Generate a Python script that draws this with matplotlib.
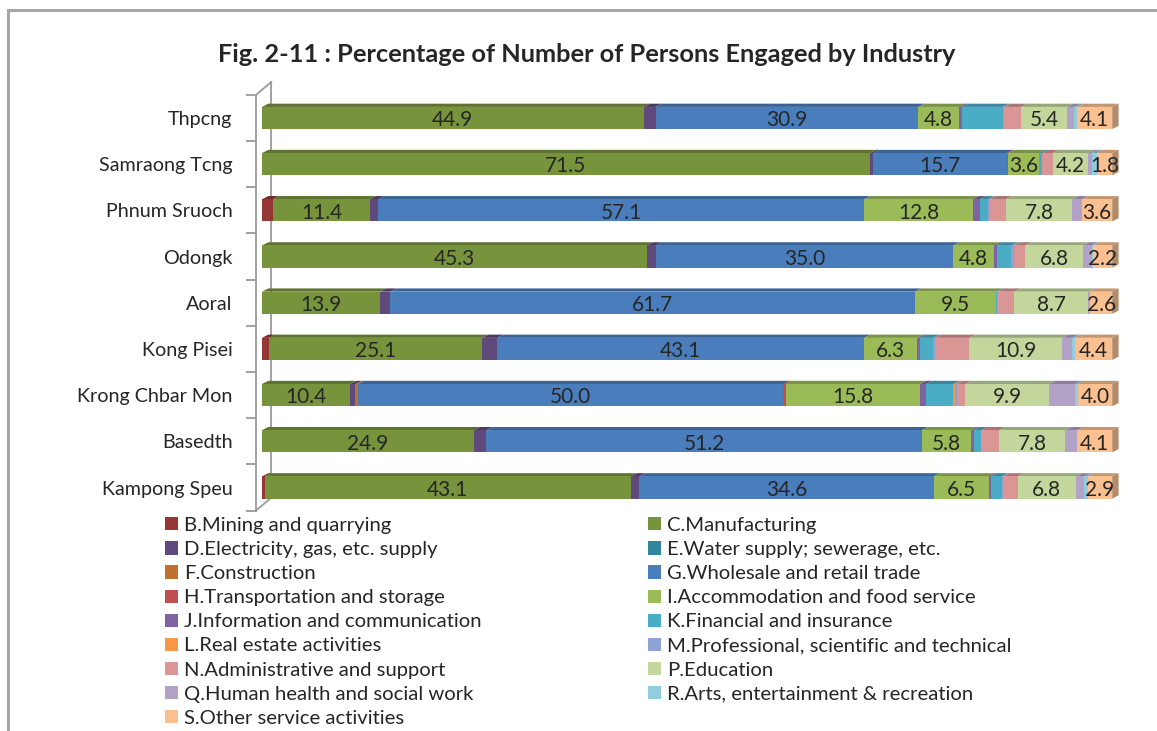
import numpy as np
import matplotlib
matplotlib.use('Agg')
import matplotlib.pyplot as plt
from matplotlib.patches import Patch, Polygon, Rectangle
import matplotlib.colors as mcolors

plt.rcParams['font.family'] = ['Lato', 'DejaVu Sans']

# districts, bottom to top
districts = ['Kampong Speu', 'Basedth', 'Krong Chbar Mon', 'Kong Pisei', 'Aoral',
             'Odongk', 'Phnum Sruoch', 'Samraong Tcng', 'Thpcng']

industries = ['B.Mining and quarrying', 'C.Manufacturing', 'D.Electricity, gas, etc. supply',
              'E.Water supply; sewerage, etc.', 'F.Construction', 'G.Wholesale and retail trade',
              'H.Transportation and storage', 'I.Accommodation and food service',
              'J.Information and communication', 'K.Financial and insurance',
              'L.Real estate activities', 'M.Professional, scientific and technical',
              'N.Administrative and support', 'P.Education', 'Q.Human health and social work',
              'R.Arts, entertainment & recreation', 'S.Other service activities']

colors = ['#953735', '#77933C', '#604A7B', '#31859C', '#C0712F', '#4A7DBC',
          '#C0504D', '#9BBB59', '#8064A2', '#4BACC6', '#F79646', '#8DA3D4',
          '#D99694', '#C3D69B', '#B3A2C7', '#93CDDD', '#FAC090']

# shares (%) per district, one list per industry, B..S
#    KSpeu Basedth KCM  KPisei Aoral Odongk PSruoch Samraong Thpcng
B = [0.3, 0.0, 0.0, 0.8, 0.0, 0.0, 1.3, 0.0, 0.0]
C = [43.1, 24.9, 10.4, 25.1, 13.9, 45.3, 11.4, 71.5, 44.9]
D = [1.0, 1.5, 0.6, 1.8, 1.2, 1.0, 1.0, 0.4, 1.4]
E = [0.0, 0.0, 0.0, 0.0, 0.0, 0.0, 0.0, 0.0, 0.0]
F = [0.0, 0.0, 0.3, 0.0, 0.0, 0.0, 0.0, 0.0, 0.0]
G = [34.6, 51.2, 50.0, 43.1, 61.7, 35.0, 57.1, 15.7, 30.9]
H = [0.0, 0.0, 0.3, 0.0, 0.0, 0.0, 0.0, 0.2, 0.0]
I = [6.5, 5.8, 15.8, 6.3, 9.5, 4.8, 12.8, 3.6, 4.8]
J = [0.3, 0.3, 0.7, 0.3, 0.0, 0.3, 0.8, 0.0, 0.3]
K = [1.2, 0.9, 3.2, 1.5, 0.2, 1.7, 1.0, 0.4, 4.8]
L = [0.0, 0.0, 0.2, 0.0, 0.0, 0.0, 0.0, 0.0, 0.0]
M = [0.2, 0.0, 0.3, 0.3, 0.0, 0.3, 0.1, 0.0, 0.2]
N = [1.7, 2.1, 0.9, 4.0, 2.0, 1.4, 2.0, 1.2, 2.0]
P = [6.8, 7.8, 9.9, 10.9, 8.7, 6.8, 7.8, 4.2, 5.4]
Q = [1.0, 1.4, 3.0, 1.2, 0.2, 1.0, 1.1, 0.4, 0.8]
R = [0.4, 0.0, 0.4, 0.3, 0.0, 0.2, 0.0, 0.6, 0.4]
S = [2.9, 4.1, 4.0, 4.4, 2.6, 2.2, 3.6, 1.8, 4.1]

shares = [B, C, D, E, F, G, H, I, J, K, L, M, N, P, Q, R, S]
labelled = ['C', 'G', 'I', 'P', 'S']
codes = [s[0] for s in industries]

fig = plt.figure(figsize=(11.57, 7.31), dpi=100)
# grey frame around the chart (cut at right/bottom like the scan)
fig.patches.append(Rectangle((8 / 1157, -0.1), 1.2, 1 - 10 / 731 + 0.1,
                             transform=fig.transFigure, fill=False,
                             edgecolor='#A6A6A6', linewidth=2.2))

ax = fig.add_axes([256 / 1157, 1 - 510.6 / 731, 863 / 1157, 415.7 / 731])
ax.set_xlim(-0.7, 100.8)
ax.set_ylim(-0.5, 8.5)

y = np.arange(len(districts))
h = 0.48
dx, dy = 0.75, 0.07

def darker(c, f=0.75):
    r, g, b = mcolors.to_rgb(c)
    return (r * f, g * f, b * f)

# back wall line of the 3-D axis
ax.plot([1.1, 1.1], [-0.22, 8.78], color='#9A9A9A', lw=1.3, zorder=1, clip_on=False)
ax.plot([-0.7, 1.1], [8.5, 8.78], color='#9A9A9A', lw=1.3, zorder=1, clip_on=False)
ax.plot([-0.7, 1.1], [-0.5, -0.22], color='#9A9A9A', lw=1.3, zorder=1, clip_on=False)

left = np.zeros(len(districts))
for vals, col, code in zip(shares, colors, codes):
    vals = np.array(vals)
    ax.barh(y, vals, left=left, height=h, color=col, edgecolor='none', zorder=3)
    for yi, l, v in zip(y, left, vals):
        if v <= 0:
            continue
        top = yi + h / 2
        ax.add_patch(Polygon([[l, top], [l + v, top], [l + v + dx, top + dy], [l + dx, top + dy]],
                             closed=True, facecolor=darker(col, 0.78), edgecolor='none', zorder=2))
        if code in labelled:
            ax.text(l + v / 2, yi - 0.05, f'{v:.1f}', ha='center', va='center',
                    fontsize=15, color='#262626', zorder=5)
    left = left + vals

# right end faces
for yi, tot in zip(y, left):
    ax.add_patch(Polygon([[tot, yi - h / 2], [tot + dx, yi - h / 2 + dy],
                          [tot + dx, yi + h / 2 + dy], [tot, yi + h / 2]],
                         closed=True, facecolor=darker(colors[-1], 0.72), edgecolor='none', zorder=2))

for side in ['top', 'right', 'bottom']:
    ax.spines[side].set_visible(False)
ax.spines['left'].set_color('#9A9A9A')
ax.spines['left'].set_linewidth(1.3)
ax.set_xticks([])
ax.set_yticks(y)
ax.set_yticklabels(districts, fontsize=14.2, color='#262626')
ax.tick_params(axis='y', which='major', length=0, pad=17)
ax.set_yticks(np.arange(-0.5, 9, 1), minor=True)
ax.tick_params(axis='y', which='minor', length=7, width=1.3, color='#9A9A9A')

fig.text(587 / 1157, 1 - 54 / 731, 'Fig. 2-11 : Percentage of Number of Persons Engaged by Industry',
         ha='center', va='center', fontsize=18.3, fontweight='bold', color='#262626')

handles = [Patch(facecolor=c, edgecolor='none', label=t) for c, t in zip(colors, industries)]
col1 = handles[0::2]
col2 = handles[1::2]
kw = dict(frameon=False, fontsize=14.6, handlelength=0.62, handleheight=0.62,
          handletextpad=0.3, labelspacing=0.35, borderpad=0, borderaxespad=0,
          labelcolor='#262626')
fig.legend(handles=col1, loc='upper left', bbox_to_anchor=(165 / 1157, 1 - 517 / 731), **kw)
fig.legend(handles=col2, loc='upper left', bbox_to_anchor=(648 / 1157, 1 - 517 / 731), **kw)

fig.savefig('out.png', dpi=100)
